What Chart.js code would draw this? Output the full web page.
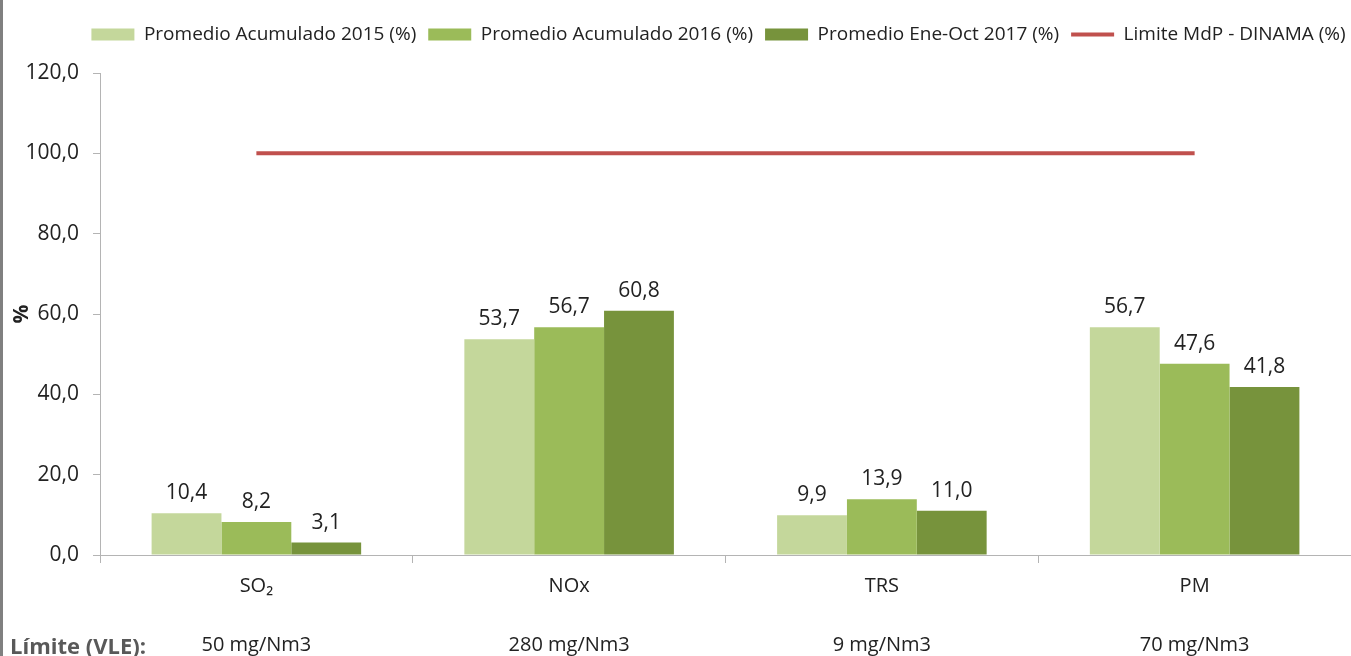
<!DOCTYPE html>
<html>
<head>
<meta charset="utf-8">
<script src="https://cdn.jsdelivr.net/npm/chart.js@4.4.1/dist/chart.umd.min.js"></script>
<style>
    html, body { margin: 0; padding: 0; background: #fff; }
    #wrap { position: relative; width: 1351px; height: 656px; overflow: hidden; }
    #edge { position: absolute; left: 0; top: 0; width: 3px; height: 656px; background: #808080; }
    #vle { position: absolute; left: 10px; top: 632px; font: bold 22px "Open Sans"; color: #595959; line-height: 26px; }
</style>
</head>
<body>
<div id="wrap">
    <canvas id="emisionesChart"></canvas>
    <div id="edge"></div>
    <div id="vle">Límite (VLE):</div>
</div>
<script>
    const categories = ['SO₂', 'NOx', 'TRS', 'PM'];
    const limits = ['50 mg/Nm3', '280 mg/Nm3', '9 mg/Nm3', '70 mg/Nm3'];
    const prom2015 = [10.4, 53.7, 9.9, 56.7];
    const prom2016 = [8.2, 56.7, 13.9, 47.6];
    const prom2017 = [3.1, 60.8, 11.0, 41.8];
    const limiteDinama = [100, 100, 100, 100];
    const yTicks = [0, 20, 40, 60, 80, 100, 120];

    const FONT = 'Open Sans';
    const fmt = v => v.toFixed(1).replace('.', ',');

    // value labels above each bar
    const valueLabels = {
        id: 'valueLabels',
        afterDatasetsDraw(chart) {
            const ctx = chart.ctx;
            ctx.save();
            ctx.font = '21px "' + FONT + '"';
            ctx.fillStyle = '#222';
            ctx.textAlign = 'center';
            ctx.textBaseline = 'alphabetic';
            chart.data.datasets.forEach((ds, i) => {
                if (ds.type === 'line') return;
                chart.getDatasetMeta(i).data.forEach((bar, j) => {
                    ctx.fillText(fmt(ds.data[j]), bar.x, bar.y - 14);
                });
            });
            ctx.restore();
        }
    };

    // extra room under the legend, and nudge it right like the original
    const legendLayout = {
        id: 'legendLayout',
        beforeInit(chart) {
            const fit = chart.legend.fit;
            chart.legend.fit = function () {
                fit.bind(chart.legend)();
                this.height += 19;
            };
        },
        afterLayout(chart) {
            chart.legend.left += 43;
            chart.legend.right += 43;
        }
    };

    const barDefaults = { categoryPercentage: 0.67, barPercentage: 1.0, borderWidth: 0, pointStyle: 'rect' };

    new Chart(document.getElementById('emisionesChart'), {
        type: 'bar',
        data: {
            labels: categories.map((c, i) => [c, '', limits[i]]),
            datasets: [
                { label: 'Promedio Acumulado 2015 (%)', data: prom2015, backgroundColor: '#C4D79B', ...barDefaults },
                { label: 'Promedio Acumulado 2016 (%)', data: prom2016, backgroundColor: '#9BBB59', ...barDefaults },
                { label: 'Promedio Ene-Oct 2017 (%)', data: prom2017, backgroundColor: '#77933C', ...barDefaults },
                {
                    type: 'line', label: 'Limite MdP - DINAMA (%)', data: limiteDinama,
                    borderColor: '#C0504D', backgroundColor: '#C0504D', borderWidth: 4,
                    pointRadius: 0, pointStyle: 'line', fill: false
                }
            ]
        },
        options: {
            responsive: true, maintainAspectRatio: false, animation: false,
            layout: { padding: { left: 0, right: 0, top: 13, bottom: 0 } },
            plugins: {
                tooltip: { enabled: false },
                legend: {
                    position: 'top',
                    labels: {
                        usePointStyle: true, pointStyleWidth: 43, boxWidth: 43, boxHeight: 12,
                        padding: 12, color: '#222', font: { family: FONT, size: 19 }
                    }
                }
            },
            scales: {
                x: {
                    grid: { display: true, drawOnChartArea: false, offset: true, tickLength: 8, color: '#B4B4B4' },
                    border: { color: '#B4B4B4', width: 1 },
                    ticks: { color: '#222', padding: 9, font: { family: FONT, size: 20, lineHeight: 1.47 }, maxRotation: 0 },
                    afterFit: s => { s.height = 101; }
                },
                y: {
                    min: 0, max: 120,
                    afterBuildTicks: s => { s.ticks = yTicks.map(v => ({ value: v })); },
                    grid: { display: true, drawOnChartArea: false, tickLength: 7, color: '#B4B4B4' },
                    border: { color: '#B4B4B4', width: 1 },
                    ticks: { color: '#222', padding: 14, font: { family: FONT, size: 21 }, callback: v => fmt(v) },
                    title: { display: true, text: '%', color: '#222', font: { family: FONT, size: 21, weight: 'bold' }, padding: { top: 9, bottom: 0 } },
                    afterFit: s => { s.width = 100; }
                }
            }
        },
        plugins: [valueLabels, legendLayout]
    });
</script>
</body>
</html>
